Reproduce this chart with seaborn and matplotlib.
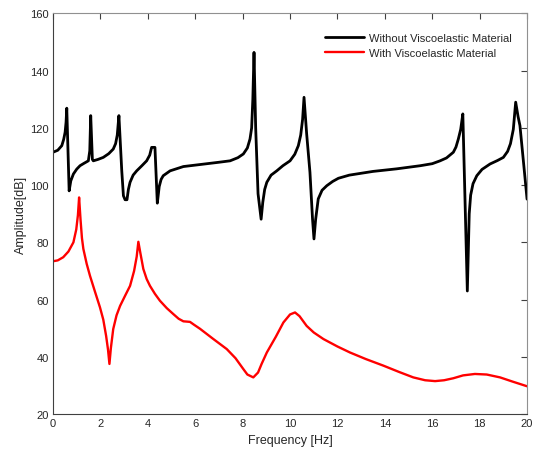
import matplotlib
matplotlib.use("Agg")
import matplotlib.pyplot as plt
import seaborn as sns

# Without viscoelastic material (black)
freq_without = [0.0, 0.2, 0.37, 0.45, 0.51, 0.55, 0.58, 0.68, 0.75, 0.86, 1.0, 1.14, 1.3, 1.49,
                1.55, 1.59, 1.66, 1.70, 1.9, 2.12, 2.35, 2.54, 2.64, 2.71, 2.78, 2.9, 2.97, 3.04,
                3.12, 3.18, 3.25, 3.38, 3.53, 3.75, 3.95, 4.08, 4.16, 4.30, 4.40, 4.48, 4.56,
                4.65, 4.94, 5.5, 6.5, 7.0, 7.47, 7.8, 8.03, 8.2, 8.31, 8.38, 8.43, 8.48, 8.55,
                8.65, 8.78, 8.85, 8.93, 9.02, 9.2, 9.44, 9.7, 10.0, 10.2, 10.35, 10.45, 10.53,
                10.59, 10.7, 10.84, 10.95, 11.01, 11.08, 11.19, 11.35, 11.55, 11.8, 12.04, 12.5,
                13.5, 14.5, 15.5, 16.0, 16.33, 16.6, 16.89, 17.0, 17.10, 17.2, 17.29, 17.48,
                17.56, 17.62, 17.72, 17.88, 18.1, 18.44, 18.75, 19.0, 19.18, 19.3, 19.42, 19.52,
                19.62, 19.70, 19.85, 20.0]
amp_without = [111.5, 112.2, 113.8, 116.0, 118.5, 122.0, 126.9, 98.0, 101.5, 103.9, 105.6, 106.8,
               107.6, 108.5, 112.0, 124.3, 109.0, 108.5, 109.0, 109.7, 111.0, 112.6, 114.5,
               117.5, 124.3, 105.0, 96.3, 94.9, 94.9, 98.5, 101.0, 103.5, 105.0, 106.8, 108.5,
               110.5, 113.2, 113.2, 93.7, 99.5, 102.0, 103.3, 105.0, 106.5, 107.5, 108.0, 108.5,
               109.6, 110.9, 113.0, 116.1, 120.0, 130.0, 146.4, 120.0, 97.0, 88.1, 94.0, 98.5,
               101.0, 103.5, 105.0, 106.8, 108.5, 110.8, 113.8, 117.5, 123.0, 130.7, 118.0,
               104.5, 88.0, 81.2, 88.0, 95.2, 98.2, 99.8, 101.3, 102.4, 103.5, 104.8, 105.7,
               106.8, 107.5, 108.5, 109.5, 111.5, 113.3, 116.1, 119.5, 124.9, 63.0, 90.0, 96.5,
               100.5, 103.3, 105.5, 107.4, 108.6, 109.7, 111.8, 114.5, 119.5, 129.0, 124.0,
               120.8, 108.0, 95.1]

# With viscoelastic material (red)
freq_with = [0.0, 0.2, 0.43, 0.65, 0.86, 0.98, 1.05, 1.10, 1.16, 1.22, 1.28, 1.42, 1.56, 1.78,
             1.98, 2.12, 2.24, 2.32, 2.38, 2.44, 2.54, 2.68, 2.83, 3.05, 3.25, 3.42, 3.53, 3.60,
             3.68, 3.81, 3.95, 4.09, 4.3, 4.51, 4.8, 5.08, 5.3, 5.5, 5.65, 5.78, 5.95, 6.2,
             6.75, 7.33, 7.7, 8.03, 8.2, 8.45, 8.65, 8.8, 9.02, 9.4, 9.72, 10.0, 10.21, 10.4,
             10.7, 11.0, 11.41, 12.0, 12.53, 13.2, 13.94, 14.6, 15.2, 15.7, 16.12, 16.5, 16.89,
             17.3, 17.8, 18.3, 18.86, 19.4, 20.0]
amp_with = [73.4, 73.7, 74.8, 76.8, 80.0, 84.5, 89.5, 95.7, 88.0, 81.5, 77.7, 72.5, 68.3, 62.5,
            57.3, 53.0, 47.3, 42.5, 37.5, 43.0, 49.7, 54.5, 57.8, 61.5, 64.8, 70.0, 75.0, 80.2,
            76.5, 70.7, 67.2, 64.8, 62.0, 59.6, 57.0, 54.9, 53.3, 52.4, 52.3, 52.2, 51.2, 49.8,
            46.3, 42.7, 39.5, 35.7, 33.8, 32.8, 34.5, 37.5, 41.5, 47.0, 52.0, 54.8, 55.5, 54.2,
            50.8, 48.5, 46.2, 43.6, 41.5, 39.2, 36.9, 34.7, 32.8, 31.8, 31.5, 31.8, 32.5, 33.5,
            34.0, 33.8, 32.8, 31.3, 29.7]

x_ticks = list(range(0, 21, 2))
y_ticks = list(range(20, 161, 20))

sns.set_theme(style="white")
plt.rcParams['font.family'] = ['Liberation Sans', 'DejaVu Sans']

fig = plt.figure(figsize=(5.34, 4.60), dpi=100)
ax = fig.add_axes([0.0993, 0.0978, 0.8877, 0.8707])

sns.lineplot(x=freq_without, y=amp_without, ax=ax, color="black", linewidth=2.0,
             sort=False, estimator=None, label="Without Viscoelastic Material")
sns.lineplot(x=freq_with, y=amp_with, ax=ax, color="#ff0000", linewidth=1.7,
             sort=False, estimator=None, label="With Viscoelastic Material")

ax.set_xlim(0, 20)
ax.set_ylim(20, 160)
ax.set_xticks(x_ticks)
ax.set_yticks(y_ticks)
ax.tick_params(direction="in", length=4, width=0.8, colors="#404040", labelsize=8,
               top=True, right=True, labelcolor="#262626", pad=3)
for s in ["left", "bottom"]:
    ax.spines[s].set_color("#404040")
    ax.spines[s].set_linewidth(0.8)
for s in ["top", "right"]:
    ax.spines[s].set_color("#909090")
    ax.spines[s].set_linewidth(0.8)
ax.set_xlabel("Frequency [Hz]", fontsize=9, color="#262626", labelpad=4)
ax.set_ylabel("Amplitude[dB]", fontsize=9, color="#262626", labelpad=2)

leg = ax.legend(loc="upper right", bbox_to_anchor=(0.967, 0.952), frameon=False, fontsize=8.0,
                handlelength=3.5, handletextpad=0.45, labelspacing=0.45, borderaxespad=0,
                borderpad=0)
for t in leg.get_texts():
    t.set_color("#262626")

fig.savefig("out.png", dpi=100)
